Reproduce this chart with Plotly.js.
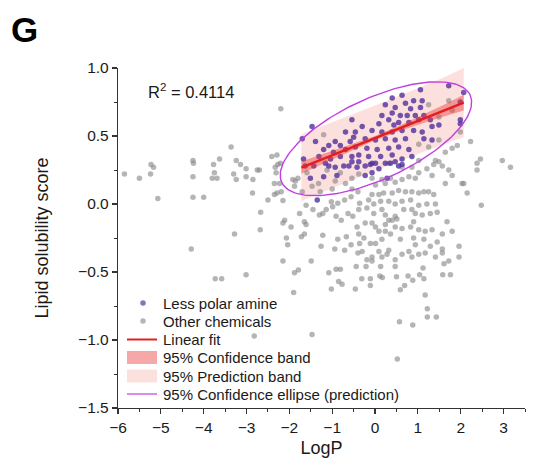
<!DOCTYPE html>
<html><head><meta charset="utf-8">
<script src="https://cdn.plot.ly/plotly-3.0.1.min.js"></script>
<style>html,body{margin:0;padding:0;background:#fff;overflow:hidden}</style>
</head><body><div id="chart" style="width:544px;height:465px"></div>
<script>
// ---------------- data ----------------
const lessPolarAmine = [
[1.06,0.84],[0.63,0.80],[0.40,0.78],[0.90,0.76],[1.10,0.76],[0.71,0.74],[0.24,0.73],[0.47,0.71],[0.83,0.70],[1.06,0.71],
[0.40,0.67],[0.59,0.65],[0.16,0.65],[0.75,0.65],[0.94,0.65],[1.14,0.65],[0.32,0.62],[0.55,0.60],[0.79,0.60],[1.02,0.62],
[1.29,0.62],[0.09,0.59],[0.44,0.58],[1.33,0.57],[1.49,0.58],[-0.30,0.57],[-0.07,0.54],[0.16,0.53],[0.40,0.53],[0.63,0.54],
[0.90,0.54],[1.10,0.53],[-0.50,0.49],[-0.23,0.48],[0.01,0.47],[0.24,0.48],[0.47,0.47],[0.71,0.48],[1.14,0.48],[1.33,0.47],
[-0.46,0.42],[-0.19,0.41],[0.05,0.40],[0.32,0.41],[0.55,0.42],[0.79,0.40],[-0.38,0.36],[-0.15,0.35],[0.13,0.35],[0.40,0.36],
[0.63,0.33],[0.86,0.35],[-0.07,0.30],[0.24,0.30],[0.55,0.28],[1.72,0.87],[1.99,0.62],[2.07,0.82],[1.99,0.75],[1.99,0.59],
[-1.47,0.57],[-1.39,0.46],[-1.70,0.48],[-0.54,0.62],[-0.69,0.53],[-0.46,0.53],[-0.93,0.46],[-1.08,0.43],[-0.81,0.43],[-0.58,0.46],
[-1.20,0.40],[-0.97,0.38],[-0.69,0.40],[-1.67,0.33],[-1.31,0.35],[-1.04,0.33],[-0.81,0.35],[-0.54,0.35],[-1.43,0.28],[-1.16,0.30],
[-0.93,0.27],[-0.61,0.28],[-0.38,0.31],[-1.63,0.28],[-1.08,0.28],[-0.73,0.28],[-0.54,0.31],[-1.51,0.19],[-1.20,0.20],[-0.89,0.21],
[-1.35,0.03],[-0.42,0.27],[-0.23,0.28],[-0.11,0.29],[0.01,0.30],[0.09,0.26],[0.36,0.30],[0.47,0.31],[0.63,0.29],[-0.07,0.23],
[-0.23,0.21],[0.28,0.19]
];
const otherChemicals = [
[-3.36,0.42],[-4.25,0.32],[-4.24,0.30],[-3.63,0.33],[-3.77,0.29],[-3.24,0.32],[-3.14,0.29],[-5.23,0.29],[-5.17,0.27],[-5.85,0.22],
[-5.50,0.19],[-5.24,0.22],[-4.25,0.20],[-3.75,0.23],[-3.80,0.19],[-3.69,0.19],[-3.30,0.22],[-3.24,0.18],[-3.01,0.26],[-3.01,0.20],
[-2.75,0.25],[-2.70,0.25],[-2.85,0.18],[-2.86,0.08],[-5.07,0.04],[-4.25,0.05],[-4.00,0.05],[-2.67,-0.06],[-2.68,-0.19],[-3.28,-0.22],
[-4.29,-0.33],[-3.73,-0.55],[-3.58,-0.55],[-3.01,-0.52],
[-1.88,-0.505],[-1.79,-0.485],[-2.15,-0.42],[-1.49,-0.42],[-1.08,-0.505],[-0.91,-0.48],[-0.81,-0.48],[-0.85,-0.57],[-0.77,-0.59],[-1.02,-0.625],
[-1.90,-0.65],[-0.44,-0.46],[-0.21,-0.46],[-0.07,-0.42],[-0.31,-0.55],[-0.11,-0.55],[0.11,-0.53],[0.17,-0.54],[-0.11,-0.60],[-0.46,-0.625],
[0.50,-0.535],[0.77,-0.53],[0.88,-0.56],[1.04,-0.52],[1.14,-0.55],[0.69,-0.60],[0.59,-0.63],[1.12,-0.47],[1.61,-0.44],[1.58,-0.52],
[1.76,-0.52],[1.17,-0.67],[1.22,-0.77],[1.22,-0.83],[1.43,-0.83],[0.57,-0.865],[0.88,-0.89],[-1.47,-0.96],[-2.82,-0.97],[0.52,-1.14],
[3.59,-0.95],
[-2.27,0.29],[-2.31,0.23],[-2.35,0.15],[-2.23,0.15],[-2.29,0.08],[-2.19,0.09],[-2.35,0.07],[-2.50,0.03],[-2.15,0.025],[-1.92,0.18],
[-1.80,0.19],[-1.88,0.13],[-2.11,-0.12],[-2.15,-0.14],[-1.76,-0.07],[-1.61,-0.01],[-1.45,-0.04],[-1.65,-0.13],[-1.61,-0.15],[-1.96,-0.17],
[-2.07,-0.25],[-2.04,-0.30],[-1.22,-0.07],[-1.30,-0.08],[-1.14,-0.04],[-0.99,-0.02],[-1.02,0.017],[-0.87,0.005],[-0.71,0.03],[-0.56,0.054],
[-0.40,0.09],[-0.36,0.005],[-0.91,-0.09],[-0.79,-0.12],[-0.63,-0.07],[-0.52,-0.09],[-1.22,-0.23],[-0.87,-0.26],[-0.67,-0.24],[-0.56,-0.30],
[-1.26,-0.31],[-0.94,-0.33],[-0.71,-0.34],[-0.36,-0.29],[-0.40,-0.36],[-1.65,-0.22],[-1.72,-0.24],
[-1.86,0.17],[-1.59,0.23],[-1.32,0.15],[-1.00,0.11],[-0.93,0.17],[-0.69,0.15],[-0.54,0.19],[-0.38,0.22],[-0.54,0.11],[-1.12,0.25],
[-0.81,0.23],[-1.28,0.09],[-1.70,0.09],[-1.47,0.13],
[-2.20,0.70],[-1.20,0.51],[-2.41,0.35],[-2.29,0.36],[-2.21,0.30],[-2.33,0.27],
[-0.07,0.19],[0.01,0.14],[0.16,0.18],[0.24,0.15],[0.36,0.19],[0.47,0.16],[0.63,0.18],[0.79,0.20],[0.94,0.19],[1.02,0.23],
[1.21,0.26],[1.37,0.29],[1.49,0.31],[1.57,0.28],[1.33,0.21],[0.86,0.09],[0.71,0.09],[0.55,0.10],[0.40,0.08],[0.20,0.08],
[0.09,0.07],[-0.07,0.07],[-0.15,0.03],[-0.03,0.00],[0.13,0.02],[0.32,0.02],[0.47,0.00],[0.63,0.02],[0.83,0.03],[1.02,0.08],
[1.14,0.09],[1.25,0.09],[1.37,0.07],[1.41,0.00],[1.21,0.00],[1.02,-0.01],[1.64,0.15],[1.80,0.21],[2.03,0.15],
[-0.38,-0.04],[-0.19,-0.03],[-0.03,-0.07],[0.16,-0.04],[0.24,-0.08],[0.47,-0.09],[0.67,-0.04],[0.86,-0.04],[0.94,-0.07],[1.10,-0.08],
[1.29,-0.07],[1.45,-0.06],[1.68,-0.13],[-0.42,-0.17],[-0.23,-0.14],[-0.07,-0.14],[0.01,-0.17],[0.09,-0.20],[0.24,-0.15],[0.32,-0.12],
[0.40,-0.12],[0.51,-0.11],[0.47,-0.17],[0.63,-0.18],[0.83,-0.17],[0.90,-0.13],[1.02,-0.19],[1.17,-0.20],[1.33,-0.19],[1.57,-0.22],
[1.80,-0.20],[-0.38,-0.22],[-0.26,-0.25],[-0.11,-0.29],[0.01,-0.29],[0.16,-0.26],[0.24,-0.20],[0.36,-0.22],[0.59,-0.26],[0.90,-0.25],
[0.94,-0.30],[1.14,-0.26],[1.45,-0.28],[1.29,-0.31],[1.57,-0.33],[1.96,-0.31],[-0.30,-0.35],[-0.19,-0.41],[-0.07,-0.39],[0.09,-0.35],
[0.16,-0.39],[0.28,-0.37],[0.32,-0.34],[0.47,-0.41],[0.63,-0.37],[0.79,-0.35],[0.86,-0.39],[1.02,-0.37],[1.17,-0.36],[1.41,-0.39],
[1.57,-0.36],[1.72,-0.42],[1.96,-0.39],[0.13,-0.46],[0.47,-0.46],
[1.25,0.73],[1.72,0.76],[1.49,0.64],[1.80,0.69],[1.02,0.44],[1.25,0.42],[1.49,0.47],[1.64,0.38],[1.41,0.32],[1.02,0.32],
[1.72,0.25],[0.86,0.27],[0.63,0.27],[0.32,0.30],
[1.99,0.53],[2.23,0.46],[1.92,0.43],[1.80,0.41],[2.46,0.33],[2.38,0.30],[2.97,0.32],[3.16,0.27],[2.38,0.25],[2.07,0.15],
[2.15,0.08],[3.59,0.14],[2.48,-0.01]
];
// linear fit
const fitLogP = [-1.72, 2.07];
const fitScore = [0.267, 0.745];
// bands
const bandLogP   = [-1.72, -1.2, -0.6, 0.0, 0.6, 1.2, 1.6, 2.07];
const confUpper  = [0.312, 0.368, 0.430, 0.500, 0.580, 0.667, 0.728, 0.803];
const confLower  = [0.222, 0.298, 0.386, 0.468, 0.540, 0.603, 0.644, 0.687];
const predUpper  = [0.512, 0.575, 0.648, 0.724, 0.800, 0.877, 0.931, 1.000];
const predLower  = [0.022, 0.091, 0.168, 0.244, 0.320, 0.393, 0.441, 0.490];
// confidence ellipse: centre and semi-axis vectors (data units)
const ellipseCenter = [0.02, 0.48];
const ellipseMajor  = [2.20, 0.32];
const ellipseMinor  = [0.39, -0.27];
const rSquared = '0.4114';
const xTicks = [-6, -5, -4, -3, -2, -1, 0, 1, 2, 3];
const yTicks = [-1.5, -1.0, -0.5, 0.0, 0.5, 1.0];
const legendLabels = ['Less polar amine', 'Other chemicals', 'Linear fit',
  '95% Confidence band', '95% Prediction band', '95% Confidence ellipse (prediction)'];

// ---------------- styling ----------------
const FONT = 'Liberation Sans, Arial, Helvetica, sans-serif';
const C_AMINE = 'rgba(80,48,158,0.8)';
const C_OTHER = 'rgba(135,135,135,0.62)';
const C_FIT = '#e41e1e';
const C_CONF = 'rgba(235,60,60,0.45)';
const C_PRED = 'rgba(248,180,175,0.42)';
const C_ELL = '#c13fe0';

const W = 544, H = 465, ML = 118, MR = 19, MT = 68, MB = 57;
const PW = W - ML - MR, PH = H - MT - MB;
const px2x = p => (p - ML) / PW;
const px2y = p => (H - MB - p) / PH;

function bandPoly(xs, up, lo) {
  return { x: xs.concat(xs.slice().reverse()), y: up.concat(lo.slice().reverse()) };
}
const pred = bandPoly(bandLogP, predUpper, predLower);
const conf = bandPoly(bandLogP, confUpper, confLower);

const ell = { x: [], y: [] };
for (let i = 0; i <= 180; i++) {
  const t = 2 * Math.PI * i / 180;
  ell.x.push(ellipseCenter[0] + Math.cos(t) * ellipseMajor[0] + Math.sin(t) * ellipseMinor[0]);
  ell.y.push(ellipseCenter[1] + Math.cos(t) * ellipseMajor[1] + Math.sin(t) * ellipseMinor[1]);
}

const traces = [
  { type: 'scatter', mode: 'lines', name: legendLabels[4], x: pred.x, y: pred.y, fill: 'toself',
    fillcolor: C_PRED, line: { width: 0 }, hoverinfo: 'skip', showlegend: false },
  { type: 'scatter', mode: 'markers', name: legendLabels[1], x: otherChemicals.map(d => d[0]), y: otherChemicals.map(d => d[1]),
    marker: { size: 5.5, color: C_OTHER }, cliponaxis: false, showlegend: false },
  { type: 'scatter', mode: 'markers', name: legendLabels[0], x: lessPolarAmine.map(d => d[0]), y: lessPolarAmine.map(d => d[1]),
    marker: { size: 5.5, color: C_AMINE }, cliponaxis: false, showlegend: false },
  { type: 'scatter', mode: 'lines', name: legendLabels[3], x: conf.x, y: conf.y, fill: 'toself',
    fillcolor: C_CONF, line: { width: 0 }, hoverinfo: 'skip', showlegend: false },
  { type: 'scatter', mode: 'lines', name: legendLabels[2], x: fitLogP, y: fitScore,
    line: { color: C_FIT, width: 2.5 }, showlegend: false },
  { type: 'scatter', mode: 'lines', name: legendLabels[5], x: ell.x, y: ell.y,
    line: { color: C_ELL, width: 1.4 }, showlegend: false }
];

// custom legend (shapes + text) placed inside the plot, lower left
const rowY = [303, 321, 339.5, 357.5, 376, 394];
const symL = 127, symR = 157, dotX = 143, textX = 161;
const shapes = [];
const annotations = [];
function dot(cy, color) {
  const r = 2.75;
  shapes.push({ type: 'circle', xref: 'paper', yref: 'paper', x0: px2x(dotX - r), x1: px2x(dotX + r),
    y0: px2y(cy + r), y1: px2y(cy - r), fillcolor: color, line: { width: 0 } });
}
function hline(cy, color, w) {
  shapes.push({ type: 'line', xref: 'paper', yref: 'paper', x0: px2x(symL), x1: px2x(symR),
    y0: px2y(cy), y1: px2y(cy), line: { color: color, width: w } });
}
function rect(cy, color) {
  shapes.push({ type: 'rect', xref: 'paper', yref: 'paper', x0: px2x(symL), x1: px2x(symR),
    y0: px2y(cy + 6.5), y1: px2y(cy - 6.5), fillcolor: color, line: { width: 0 } });
}
dot(rowY[0], 'rgba(110,90,180,0.85)'); dot(rowY[1], C_OTHER);
hline(rowY[2], C_FIT, 2); rect(rowY[3], C_CONF); rect(rowY[4], C_PRED); hline(rowY[5], C_ELL, 1.2);
legendLabels.forEach((lab, i) => annotations.push({
  xref: 'paper', yref: 'paper', x: px2x(textX), y: px2y(rowY[i]), xanchor: 'left', yanchor: 'middle',
  text: lab, showarrow: false, font: { family: FONT, size: 15, color: '#1a1a1a' }
}));
annotations.push({ xref: 'paper', yref: 'paper', x: px2x(146), y: px2y(91), xanchor: 'left', yanchor: 'middle',
  text: 'R<sup>2</sup> = ' + rSquared, showarrow: false, font: { family: FONT, size: 16.5, color: '#1a1a1a' } });
annotations.push({ xref: 'paper', yref: 'paper', x: px2x(9), y: px2y(30), xanchor: 'left', yanchor: 'middle',
  text: '<b>G</b>', showarrow: false, font: { family: FONT, size: 35, color: '#000' } });

const axisCommon = {
  showline: true, linecolor: '#333', linewidth: 1.2, showgrid: false, zeroline: false,
  ticks: 'outside', ticklen: 5, tickwidth: 1.2, tickcolor: '#333',
  tickfont: { family: FONT, size: 15.5, color: '#1a1a1a' }, automargin: false
};
const layout = {
  width: W, height: H, margin: { l: ML, r: MR, t: MT, b: MB, pad: 0 },
  paper_bgcolor: '#fff', plot_bgcolor: '#fff', showlegend: false,
  font: { family: FONT, color: '#1a1a1a' },
  xaxis: Object.assign({}, axisCommon, {
    range: [-6, 3.5], tickmode: 'array', tickvals: xTicks, ticktext: xTicks.map(v => v < 0 ? '\u2212' + Math.abs(v) : String(v)),
    minor: { dtick: 0.5, tick0: 0, ticks: 'outside', ticklen: 3, tickwidth: 1, tickcolor: '#333' },
    title: { text: 'LogP', font: { family: FONT, size: 18, color: '#1a1a1a' }, standoff: 6 }
  }),
  yaxis: Object.assign({}, axisCommon, {
    range: [-1.5, 1.0], tickmode: 'array', tickvals: yTicks, ticktext: yTicks.map(v => (v < 0 ? '\u2212' : '') + Math.abs(v).toFixed(1)),
    minor: { dtick: 0.25, tick0: 0, ticks: 'outside', ticklen: 3, tickwidth: 1, tickcolor: '#333' },
    title: { text: 'Lipid solubility score', font: { family: FONT, size: 18, color: '#1a1a1a' }, standoff: 24 }
  }),
  shapes: shapes, annotations: annotations
};
Plotly.newPlot('chart', traces, layout, { displayModeBar: false, staticPlot: true });
</script></body></html>
